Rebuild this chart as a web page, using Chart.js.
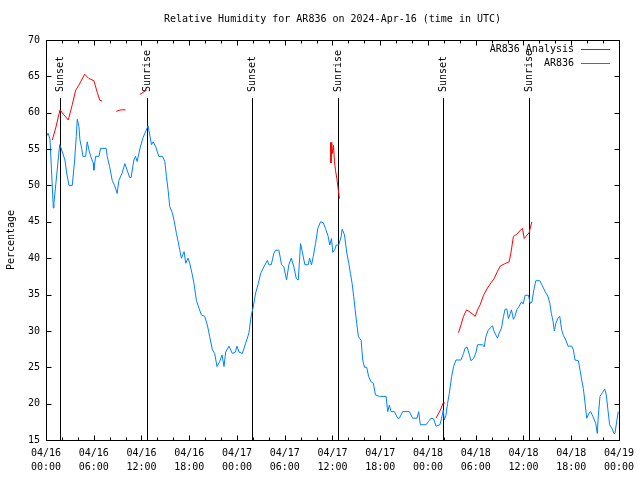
<!DOCTYPE html>
<html>
<head>
<meta charset="utf-8">
<script src="https://cdn.jsdelivr.net/npm/chart.js@4"></script>
<style>
html,body{margin:0;padding:0;background:#fff;}
</style>
</head>
<body>
<canvas id="humChart" width="640" height="480"></canvas>
<script>
// hours since 04/16 00:00 UTC
const stationHours = [0,0.25,0.5,0.92,1.0,1.72,1.84,2.38,2.6,2.89,3.3,3.6,3.8,3.93,4.14,4.26,4.48,4.64,4.98,5.18,5.39,5.61,5.93,6.02,6.23,6.65,6.86,7.56,7.69,7.99,8.32,8.62,8.94,9.16,9.57,9.91,10.2,10.5,10.7,11.04,11.25,11.45,11.88,12.2,12.83,13.26,13.46,13.8,14.17,14.64,14.93,15.14,15.34,15.55,15.89,16.09,16.39,16.6,16.81,17.02,17.35,17.56,17.85,18.06,18.35,18.6,18.9,19.23,19.53,19.94,20.28,20.57,20.91,21.2,21.49,21.83,22.12,22.37,22.58,22.99,23.42,23.8,24.0,24.25,24.67,25.09,25.5,25.8,26.05,26.34,26.68,26.97,27.38,27.81,28.01,28.31,28.64,28.85,29.27,29.6,29.89,30.23,30.52,30.82,31.15,31.45,31.7,31.99,32.2,32.53,32.95,33.12,33.37,33.58,33.87,34.16,34.5,34.83,35.12,35.46,35.66,35.88,36.04,36.29,36.47,36.79,37.09,37.22,37.51,37.8,38.05,38.26,38.47,38.67,38.85,39.05,39.26,39.6,39.8,40.02,40.3,40.55,40.86,41.14,41.4,41.9,42.74,42.94,43.15,43.36,43.78,44.19,44.41,44.82,45.66,46.07,46.63,46.83,47.04,47.76,48.04,48.38,48.71,49.01,49.51,49.71,49.92,50.05,50.26,50.46,50.68,50.97,51.22,51.52,52.14,52.47,52.65,52.9,53.19,53.4,53.73,54.03,54.23,54.86,55.07,55.28,55.57,55.82,56.11,56.32,56.74,56.95,57.24,57.49,57.7,57.91,58.11,58.33,58.49,58.74,58.92,59.17,59.46,59.75,59.96,60.21,60.63,60.84,61.05,61.3,61.55,62.05,62.38,62.72,63.06,63.31,63.51,63.72,63.88,64.06,64.31,64.56,64.81,65.01,65.32,65.6,66.07,66.27,66.48,66.9,67.11,67.32,67.52,67.7,67.95,68.24,68.45,68.74,69.08,69.28,69.41,69.62,69.91,70.21,70.41,70.62,70.83,71.16,71.37,71.5,71.71,71.91,72];
const stationRH = [56.6,57.2,56.4,46.9,47.6,55.6,55.3,53.5,51.7,50,50,53.5,56.7,59.1,58.1,56.3,55.1,54,54,56,54.9,54,53.1,52.1,54,54,55.1,55.1,54,52.6,50.7,50,48.9,50.7,51.7,53,52.1,51.1,51.1,53.5,54,53.3,55.4,56.6,58.2,55.6,56,55.3,54,54,53.3,51.2,49.4,47.1,46.2,45.2,43.4,42.3,41.1,40,40.9,39.3,40,39.3,37.9,36.5,34.2,33.1,32.2,32,30.8,29.2,27.4,26.9,25.1,25.8,26.7,25.1,27.1,27.9,26.9,27.1,27.9,27.1,26.9,28.3,29.7,32.2,33.3,35.2,36.5,37.9,38.8,39.7,39.1,39.1,40.7,41.1,41.1,39.1,38.8,37,39.1,40,38.8,37.2,37,42,40.9,39.1,39.1,40,39.1,40.2,42,44.1,45,44.9,44.1,43,41.8,42.7,40.8,41.2,41.8,41.8,43,44,43.2,40.7,39.3,37.9,36.5,34.7,32.9,31,29.2,28.7,26,25,25,23.7,23,22.8,21.2,21,21,18.9,19.8,18.9,18.9,18,18,18.9,18.9,18,18,18.9,17.1,17.1,17.5,18,17.9,16.9,17.1,18,19.1,17.75,18.4,20,21.4,23.7,25.1,26,26,26.9,27.6,27.8,26.8,25.9,26.2,27,28.1,28.1,27.8,29.2,30.1,30.4,30.7,29.9,29,29.7,30.4,32,33,33,31.7,32.4,32.9,31.6,32,32.9,33.4,34,33.7,34.9,34.9,33.8,33.9,35.6,36.9,36.9,36.2,35.4,34.8,33.8,32.4,31.3,30,31,31.7,32,30.1,29.4,28.75,27.9,27.9,27.4,26,25.9,24.6,23.25,22.1,20.5,18,18.7,18.9,18.2,17.3,15.9,18.4,21,21.5,22,21.2,19.1,17.1,16.5,15.9,15.9,17.5,18.9,18.9];

// null marks a break in the analysis trace
const analysisHours = [0.79,1.22,1.76,2.26,2.8,3.3,3.73,4.14,4.85,5.39,6.02,6.44,6.77,7.06,8.0,8.82,9.45,10.0,11.0,11.79,12.63,24,35.75,35.81,35.91,36.0,36.13,36.25,36.38,36.54,36.72,36.88,43,49.01,49.55,49.92,50.14,51,51.84,52.14,52.47,52.85,53.4,53.94,54.23,54.56,54.98,55.48,55.91,56.32,56.74,57.07,57.58,58.2,58.42,58.74,59.17,59.75,59.88,60.09,60.71,61.05];
const analysisRH = [56.25,57.9,60.4,59.7,59,61.1,63.1,63.8,65.3,64.7,64.4,62.8,61.7,61.6,null,60.2,60.4,60.4,null,62.5,63.1,null,55.9,53.1,55.9,54.4,55.5,53.3,52.1,51,49.5,48.2,null,18,19.1,20.1,20.1,null,29.75,30.8,32,32.9,32.5,32,32.9,33.6,34.9,35.9,36.6,37.2,38.2,38.9,39.2,39.5,40.7,43,43.3,44,44.1,42.7,43.5,45];

const sunHours = [1.79,12.71,25.88,36.67,49.84,60.75];
const sunLabels = ['Sunset','Sunrise','Sunset','Sunrise','Sunset','Sunrise'];

const xDates = ['04/16','04/16','04/16','04/16','04/17','04/17','04/17','04/17','04/18','04/18','04/18','04/18','04/19'];
const xTimes = ['00:00','06:00','12:00','18:00','00:00','06:00','12:00','18:00','00:00','06:00','12:00','18:00','00:00'];

const FONT = '"DejaVu Sans Mono", monospace';
const RED = '#ff0000';
const BLUE = '#0080ff';

const gnuFrame = {
  id: 'gnuFrame',
  beforeDatasetsDraw(chart) {
    const {ctx, chartArea: a, scales: {x, y}} = chart;
    ctx.save();
    ctx.strokeStyle = '#000';
    ctx.fillStyle = '#000';
    ctx.lineWidth = 1;
    ctx.font = '10px ' + FONT;
    const top = Math.round(y.getPixelForValue(62));
    sunHours.forEach((h, i) => {
      const px = Math.round(x.getPixelForValue(h)) + 0.5;
      ctx.beginPath();
      ctx.moveTo(px, top);
      ctx.lineTo(px, a.bottom);
      ctx.stroke();
      ctx.save();
      ctx.translate(px, top - 6);
      ctx.rotate(-Math.PI / 2);
      ctx.textAlign = 'left';
      ctx.textBaseline = 'middle';
      ctx.fillText(sunLabels[i], 0, 0);
      ctx.restore();
    });
    ctx.restore();
  },
  afterDraw(chart) {
    const {ctx, chartArea: a, scales: {x, y}} = chart;
    ctx.save();
    ctx.strokeStyle = '#000';
    ctx.lineWidth = 1;
    const L = Math.round(a.left) + 0.5, R = Math.round(a.right) + 0.5;
    const T = Math.round(a.top) + 0.5, B = Math.round(a.bottom) + 0.5;
    ctx.strokeRect(L, T, R - L, B - T);
    // inward ticks, gnuplot style
    ctx.beginPath();
    for (let h = 0; h <= 72; h += 2) {
      const px = Math.round(x.getPixelForValue(h)) + 0.5;
      const len = h % 6 === 0 ? 5 : 3;
      ctx.moveTo(px, B); ctx.lineTo(px, B - len);
      ctx.moveTo(px, T); ctx.lineTo(px, T + len);
    }
    for (let v = 15; v <= 70; v += 5) {
      const py = Math.round(y.getPixelForValue(v)) + 0.5;
      ctx.moveTo(L, py); ctx.lineTo(L + 5, py);
      ctx.moveTo(R, py); ctx.lineTo(R - 5, py);
    }
    ctx.stroke();

    // title
    ctx.fillStyle = '#000';
    ctx.font = '10px ' + FONT;
    ctx.textAlign = 'center';
    ctx.textBaseline = 'middle';
    ctx.fillText('Relative Humidity for AR836 on 2024-Apr-16 (time in UTC)', (a.left + a.right) / 2, 19);

    // key
    ctx.textAlign = 'right';
    chart.data.datasets.forEach((ds, i) => {
      const ky = 49 + i * 14;
      ctx.fillStyle = '#000';
      ctx.fillText(ds.label, 574, ky);
      ctx.strokeStyle = ds.borderColor;
      ctx.beginPath();
      ctx.moveTo(581, ky + 0.5);
      ctx.lineTo(610, ky + 0.5);
      ctx.stroke();
    });
    ctx.restore();
  }
};

new Chart(document.getElementById('humChart'), {
  type: 'line',
  data: {
    datasets: [
      {label: 'AR836 Analysis', data: analysisHours.map((h, i) => ({x: h, y: analysisRH[i]})), borderColor: RED, borderWidth: 1, pointRadius: 0, tension: 0, spanGaps: false},
      {label: 'AR836', data: stationHours.map((h, i) => ({x: h, y: stationRH[i]})), borderColor: BLUE, borderWidth: 1, pointRadius: 0, tension: 0}
    ]
  },
  options: {
    responsive: false,
    animation: false,
    events: [],
    layout: {padding: {top: 40, right: 20, left: 0, bottom: 0}},
    plugins: {legend: {display: false}, title: {display: false}, tooltip: {enabled: false}},
    scales: {
      x: {
        type: 'linear', min: 0, max: 72,
        grid: {display: false, drawTicks: false},
        border: {display: false},
        ticks: {
          stepSize: 6, autoSkip: false, maxRotation: 0, padding: 6,
          color: '#000', font: {family: FONT, size: 10, lineHeight: 1.4},
          callback: (v) => [xDates[v / 6], xTimes[v / 6]]
        },
        afterFit: (s) => { s.height = 40; }
      },
      y: {
        min: 15, max: 70,
        grid: {display: false, drawTicks: false},
        border: {display: false},
        ticks: {stepSize: 5, padding: 6, color: '#000', font: {family: FONT, size: 10}},
        title: {display: true, text: 'Percentage', color: '#000', font: {family: FONT, size: 10}, padding: {top: 5, bottom: 0}},
        afterFit: (s) => { s.width = 46; }
      }
    }
  },
  plugins: [gnuFrame]
});
</script>
</body>
</html>
